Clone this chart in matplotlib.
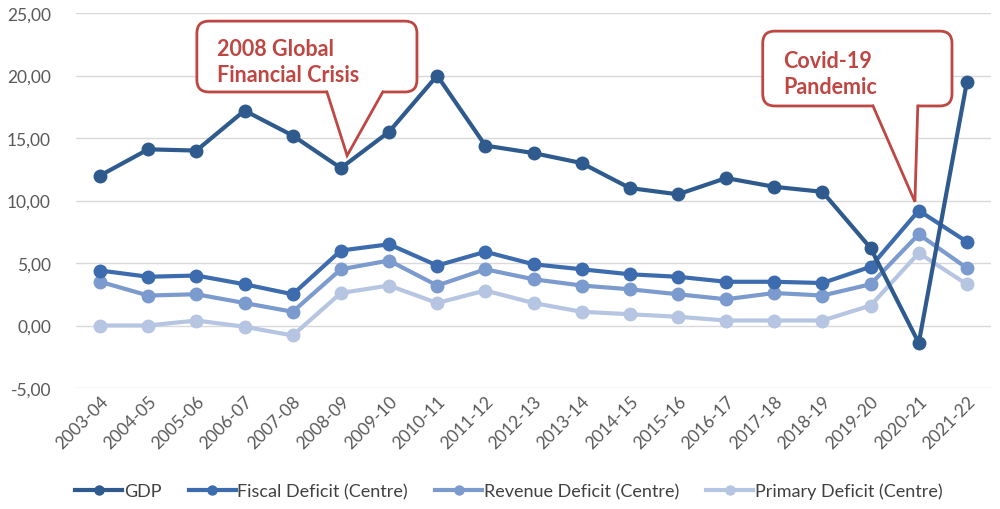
import matplotlib
matplotlib.use("Agg")
import matplotlib.pyplot as plt
from matplotlib.lines import Line2D
from matplotlib.patches import FancyBboxPatch, Polygon
from matplotlib.ticker import FuncFormatter, MultipleLocator

plt.rcParams['font.family'] = ['Lato', 'DejaVu Sans']

years = ['2003-04', '2004-05', '2005-06', '2006-07', '2007-08', '2008-09',
         '2009-10', '2010-11', '2011-12', '2012-13', '2013-14', '2014-15',
         '2015-16', '2016-17', '2017-18', '2018-19', '2019-20', '2020-21',
         '2021-22']

gdp = [12.0, 14.1, 14.0, 17.2, 15.2, 12.6, 15.5, 20.0, 14.4, 13.8, 13.0,
       11.0, 10.5, 11.8, 11.1, 10.7, 6.2, -1.4, 19.5]
fiscal = [4.4, 3.9, 4.0, 3.3, 2.5, 6.0, 6.5, 4.8, 5.9, 4.9, 4.5, 4.1, 3.9,
          3.5, 3.5, 3.4, 4.7, 9.2, 6.7]
revenue = [3.5, 2.4, 2.5, 1.8, 1.1, 4.5, 5.2, 3.2, 4.5, 3.7, 3.2, 2.9, 2.5,
           2.1, 2.6, 2.4, 3.3, 7.3, 4.6]
primary = [0.0, 0.0, 0.4, -0.1, -0.8, 2.6, 3.2, 1.8, 2.8, 1.8, 1.1, 0.9, 0.7,
           0.4, 0.4, 0.4, 1.6, 5.8, 3.3]

series = [
    ('GDP', gdp, '#2E5A8E'),
    ('Fiscal Deficit (Centre)', fiscal, '#3C6BAE'),
    ('Revenue Deficit (Centre)', revenue, '#7B9ACD'),
    ('Primary Deficit (Centre)', primary, '#B5C5E2'),
]

RED = '#BE4643'

fig = plt.figure(figsize=(10, 5.1), dpi=100)
ax = fig.add_axes([0.076, 0.2373, 0.915, 0.735])

x = list(range(len(years)))
# lighter series first so GDP ends up on top
for name, vals, col in reversed(series):
    ax.plot(x, vals, color=col, lw=3, marker='o', ms=9,
            solid_capstyle='round', zorder=3)

ax.set_xlim(-0.5, len(years) - 0.5)
ax.set_ylim(-5, 25)
ax.yaxis.set_major_locator(MultipleLocator(5))
ax.yaxis.set_major_formatter(FuncFormatter(lambda v, p: f'{v:.2f}'.replace('.', ',')))
ax.grid(axis='y', color='#D9D9D9', lw=1)
ax.set_axisbelow(True)
for s in ax.spines.values():
    s.set_visible(False)
ax.tick_params(length=0, labelsize=12.5, labelcolor='#595959')
ax.tick_params(axis='y', pad=18)
ax.set_xticks(x)
ax.set_xticklabels(years, rotation=45, ha='right', rotation_mode='anchor')


def callout(ax, x0, x1, y0, y1, base_l, base_r, tip, text):
    # rounded box with a pointer, in data coordinates
    pos = ax.get_position()
    fw, fh = fig.get_size_inches() * fig.dpi
    xpx = pos.width * fw / (ax.get_xlim()[1] - ax.get_xlim()[0])
    ypx = pos.height * fh / (ax.get_ylim()[1] - ax.get_ylim()[0])
    asp = xpx / ypx
    box = FancyBboxPatch((x0, y0), x1 - x0, y1 - y0,
                         boxstyle='round,pad=0,rounding_size=0.25',
                         mutation_aspect=asp, fc='white', ec=RED, lw=2,
                         zorder=5)
    ax.add_patch(box)
    cover = Polygon([(base_l, y0 + 0.4), (base_l, y0), tip, (base_r, y0),
                     (base_r, y0 + 0.4)], closed=True, fc='white', ec='none',
                    zorder=6)
    ax.add_patch(cover)
    ax.plot([base_l, tip[0], base_r], [y0, tip[1], y0], color=RED, lw=2,
            zorder=6, solid_joinstyle='miter')
    ax.text(x0 + 0.42, (y0 + y1) / 2 - 0.4, text, color=RED, fontsize=15.5,
            fontweight='bold', ha='left', va='center', linespacing=1.3,
            zorder=7)


callout(ax, 2.01, 6.58, 18.69, 24.36, 4.71, 5.87, (5.13, 13.6),
        '2008 Global\nFinancial Crisis')
callout(ax, 13.76, 17.69, 17.57, 23.56, 16.05, 16.98, (16.92, 9.9),
        'Covid-19\nPandemic')

# legend keys with smaller markers than the plotted points
handles = [Line2D([], [], color=col, lw=3, marker='o', ms=6.5)
           for _, _, col in series]
labels = [name for name, _, _ in series]
fig.legend(handles, labels, loc='center', ncol=4,
           bbox_to_anchor=(0.509, 0.035), frameon=False, fontsize=13,
           labelcolor='#404040', handlelength=2.6, handletextpad=0.1,
           columnspacing=1.5)

fig.savefig('out.png', dpi=100)
